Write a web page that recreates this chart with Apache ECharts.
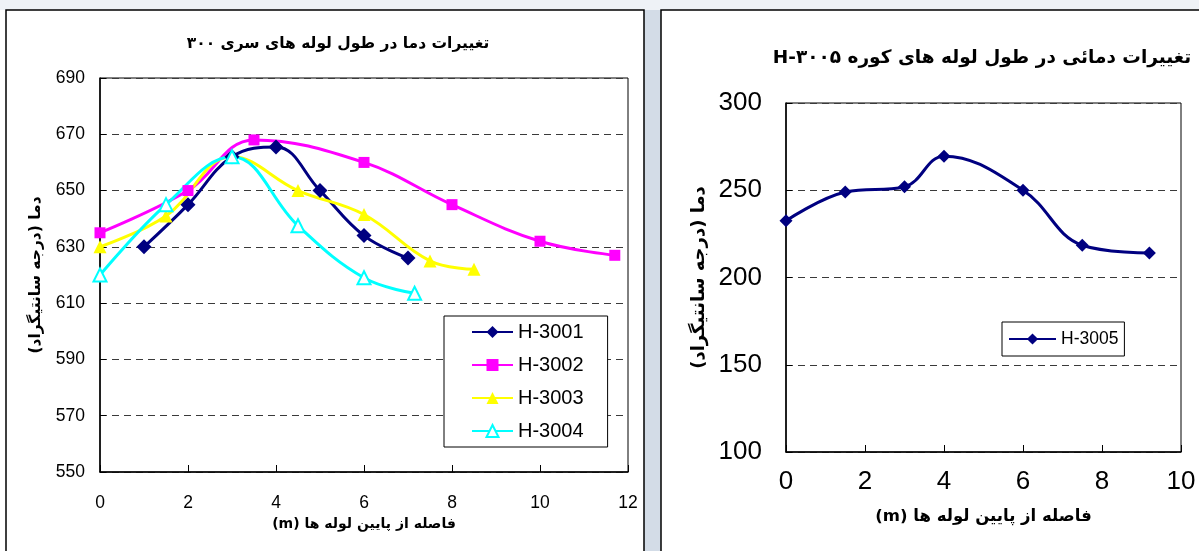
<!DOCTYPE html>
<html>
<head>
<meta charset="utf-8">
<script src="https://cdn.jsdelivr.net/npm/echarts@6/dist/echarts.min.js"></script>
<style>
  html, body { margin: 0; padding: 0; background: #ffffff; }
  #chart { width: 1199px; height: 551px; }
</style>
</head>
<body>
<div id="chart"></div>
<script>
// Furnace 300 series: temperature along the tubes (distance in m, temperature in °C)
const h3001X = [1, 2, 3, 4, 5, 6, 7];
const h3001Y = [630, 645, 662, 665.5, 650, 634, 626];
const h3002X = [0, 2, 3.5, 6, 8, 10, 11.7];
const h3002Y = [635, 650, 668, 660, 645, 632, 627];
const h3003X = [0, 1.5, 3, 4.5, 6, 7.5, 8.5];
const h3003Y = [630, 641, 662, 650, 641.5, 625, 622];
const h3004X = [0, 1.5, 3, 4.5, 6, 7.15];
const h3004Y = [620, 645, 662, 637.5, 619, 613.5];

// Furnace H-3005
const h3005X = [0, 1.5, 3, 4, 6, 7.5, 9.2];
const h3005Y = [232.5, 249, 252, 269.5, 250, 218.5, 214];

const seriesNamesA = ['H-3001', 'H-3002', 'H-3003', 'H-3004'];
const seriesNamesB = ['H-3005'];

const titleA = 'تغییرات دما در طول لوله های سری ۳۰۰';
const titleB = 'H-۳۰۰۵ تغییرات دمائی در طول لوله های کوره';
const xNameA = '(m) فاصله از پایین لوله ها';
const xNameB = '(m) فاصله از پایین لوله ها';
const yName = 'دما (درجه سانتیگراد)\u200F';

const pairs = (xs, ys) => xs.map((x, i) => [x, ys[i]]);

const faFont = 'DejaVu Sans';
const numFont = 'Liberation Sans, Arial, sans-serif';

const gridLine = { show: true, lineStyle: { color: '#3a3a3a', type: [7, 5], width: 1 } };

function lineSeries(name, xs, ys, color, symbol, size, axisIdx) {
  return {
    name, type: 'line', xAxisIndex: axisIdx, yAxisIndex: axisIdx,
    data: pairs(xs, ys), smooth: 0.4, symbol, symbolSize: size,
    lineStyle: { color, width: 3 },
    itemStyle: { color, borderColor: color, borderWidth: symbol === 'emptyTriangle' ? 1.8 : 0 },
    emphasis: { disabled: true }, z: 3
  };
}

const chart = echarts.init(document.getElementById('chart'), null, { renderer: 'canvas' });
chart.setOption({
  animation: false,
  backgroundColor: '#ffffff',
  graphic: [
    { type: 'rect', z: -2, shape: { x: 644, y: 0, width: 18, height: 551 }, style: { fill: '#d3dce7' } },
    { type: 'rect', z: -2, shape: { x: 0, y: 0, width: 1199, height: 10 }, style: { fill: '#eef2f6' } },
    { type: 'rect', z: -1, shape: { x: 6, y: 10, width: 638, height: 560 }, style: { fill: '#ffffff', stroke: '#000', lineWidth: 1.5 } },
    { type: 'rect', z: -1, shape: { x: 661, y: 10, width: 560, height: 560 }, style: { fill: '#ffffff', stroke: '#000', lineWidth: 1.5 } }
  ],
  title: [
    { text: titleA, left: 333, top: 31, textAlign: 'center',
      textStyle: { fontFamily: faFont, fontWeight: 'bold', fontSize: 15.5, color: '#000' } },
    { text: titleB, left: 977, top: 44, textAlign: 'center',
      textStyle: { fontFamily: faFont, fontWeight: 'bold', fontSize: 18.5, color: '#000' } }
  ],
  legend: [
    { data: seriesNamesA, orient: 'vertical', left: 444, top: 316,
      itemWidth: 41, itemHeight: 15, itemGap: 13, padding: [6, 24, 6, 27],
      borderColor: '#000', borderWidth: 1, backgroundColor: '#fff',
      textStyle: { fontFamily: numFont, fontSize: 20, color: '#000' } },
    { data: seriesNamesB, orient: 'vertical', left: 1002, top: 322,
      itemWidth: 47, itemHeight: 14, padding: [8, 6, 8, 6],
      borderColor: '#000', borderWidth: 1, backgroundColor: '#fff',
      textStyle: { fontFamily: numFont, fontSize: 17.5, color: '#000' } }
  ],
  grid: [
    { left: 100, top: 78, width: 528, height: 394, show: true, borderColor: '#000', borderWidth: 1, backgroundColor: '#fff' },
    { left: 786, top: 103, width: 395, height: 349, show: true, borderColor: '#000', borderWidth: 1, backgroundColor: '#fff' }
  ],
  xAxis: [
    { type: 'value', gridIndex: 0, min: 0, max: 12, interval: 2,
      axisLine: { show: true, lineStyle: { color: '#000', width: 1.5 } },
      axisTick: { show: true, inside: true, length: 7, lineStyle: { color: '#000' } },
      axisLabel: { fontFamily: numFont, fontSize: 17.5, color: '#000', margin: 22 },
      splitLine: { show: false },
      name: xNameA, nameLocation: 'middle', nameGap: 41,
      nameTextStyle: { fontFamily: faFont, fontWeight: 'bold', fontSize: 14, color: '#000' } },
    { type: 'value', gridIndex: 1, min: 0, max: 10, interval: 2,
      axisLine: { show: true, lineStyle: { color: '#000', width: 1.5 } },
      axisTick: { show: true, inside: true, length: 7, lineStyle: { color: '#000' } },
      axisLabel: { fontFamily: numFont, fontSize: 26, color: '#000', margin: 17 },
      splitLine: { show: false },
      name: xNameB, nameLocation: 'middle', nameGap: 56,
      nameTextStyle: { fontFamily: faFont, fontWeight: 'bold', fontSize: 16.5, color: '#000' } }
  ],
  yAxis: [
    { type: 'value', gridIndex: 0, min: 550, max: 690, interval: 20,
      axisLine: { show: true, lineStyle: { color: '#000', width: 1.5 } },
      axisTick: { show: true, inside: true, length: 6, lineStyle: { color: '#000' } },
      axisLabel: { fontFamily: numFont, fontSize: 17.5, color: '#000', margin: 15 },
      splitLine: gridLine,
      name: yName, nameLocation: 'middle', nameRotate: 90, nameGap: 56,
      nameTextStyle: { fontFamily: faFont, fontWeight: 'bold', fontSize: 15.5, color: '#000' } },
    { type: 'value', gridIndex: 1, min: 100, max: 300, interval: 50,
      axisLine: { show: true, lineStyle: { color: '#000', width: 1.5 } },
      axisTick: { show: true, inside: true, length: 6, lineStyle: { color: '#000' } },
      axisLabel: { fontFamily: numFont, fontSize: 26, color: '#000', margin: 24 },
      splitLine: gridLine,
      name: yName, nameLocation: 'middle', nameRotate: 90, nameGap: 78,
      nameTextStyle: { fontFamily: faFont, fontWeight: 'bold', fontSize: 18, color: '#000' } }
  ],
  series: [
    lineSeries('H-3001', h3001X, h3001Y, '#000080', 'diamond', 15, 0),
    lineSeries('H-3002', h3002X, h3002Y, '#ff00ff', 'rect', 11, 0),
    lineSeries('H-3003', h3003X, h3003Y, '#ffff00', 'triangle', 13, 0),
    lineSeries('H-3004', h3004X, h3004Y, '#00ffff', 'emptyTriangle', 13, 0),
    lineSeries('H-3005', h3005X, h3005Y, '#000080', 'diamond', 13, 1)
  ]
});
</script>
</body>
</html>
